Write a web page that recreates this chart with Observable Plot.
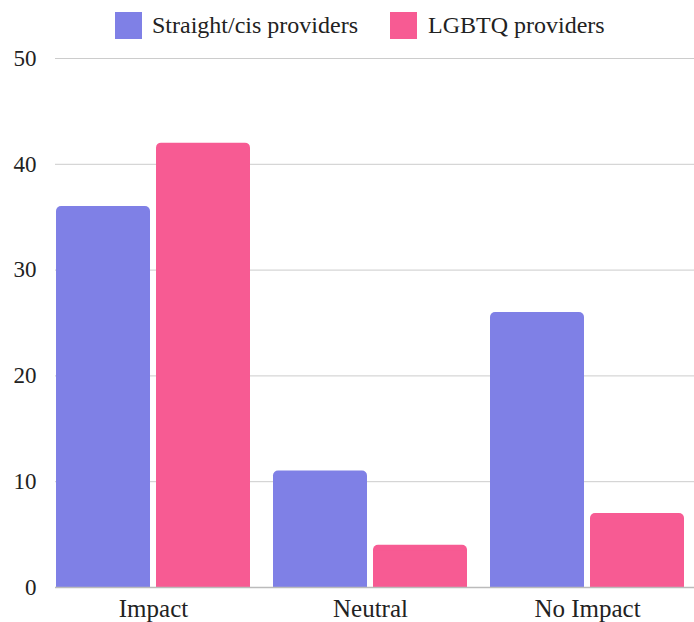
<!DOCTYPE html>
<html>
<head>
<meta charset="utf-8">
<script src="https://cdn.jsdelivr.net/npm/d3@7"></script>
<script src="https://cdn.jsdelivr.net/npm/@observablehq/plot@0.6"></script>
<style>
  body { margin: 0; background: #fff; font-family: "Liberation Serif", serif; }
  #wrap { position: relative; width: 694px; height: 622px; }
  .sw { position: absolute; top: 12px; width: 27px; height: 27px; z-index: 2; }
  .lab { position: absolute; top: 10px; font-size: 24px; line-height: 30px; color: #222; white-space: nowrap; z-index: 2; }
  #chart { position: absolute; left: 0; top: 0; }
  #chart svg g[aria-label="x-axis tick label"] { font-size: 25px; }
</style>
</head>
<body>
<div id="wrap">
  <div id="legend"></div>
  <div id="chart"></div>
</div>
<script>
const categories = ["Impact", "Neutral", "No Impact"];
const seriesNames = ["Straight/cis providers", "LGBTQ providers"];
const straightCis = [36, 11, 26];
const lgbtq = [42, 4, 7];
const yTicks = [0, 10, 20, 30, 40, 50];
const colors = ["#7f80e6", "#f75b93"];

const legend = document.getElementById("legend");
const swatchLeft = [115, 390];
const labelLeft = [152, 428];
seriesNames.forEach((name, i) => {
  const sw = document.createElement("div");
  sw.className = "sw";
  sw.style.background = colors[i];
  sw.style.left = swatchLeft[i] + "px";
  const lab = document.createElement("div");
  lab.className = "lab";
  lab.style.left = labelLeft[i] + "px";
  lab.textContent = name;
  legend.appendChild(sw);
  legend.appendChild(lab);
});

const data = categories.map((c, i) => ({cat: c, a: straightCis[i], b: lgbtq[i]}));

const chart = Plot.plot({
  width: 694,
  height: 622,
  marginTop: 58,
  marginBottom: 35,
  marginLeft: 55,
  marginRight: 0,
  style: {fontFamily: "Liberation Serif, serif", fontSize: "23px", color: "#222", background: "transparent"},
  x: {domain: categories, range: [55, 686], paddingInner: 0.1055, paddingOuter: 0, tickSize: 0, tickPadding: 12, label: null},
  y: {domain: [0, 50], ticks: yTicks, tickSize: 0, tickPadding: 19, label: null},
  marks: [
    Plot.ruleY(yTicks.filter(d => d > 0), {stroke: "#cccccc", strokeWidth: 1}),
    Plot.barY(data, {x: "cat", y: "a", fill: colors[0], rx: 5, insetRight: 100}),
    Plot.barY(data, {x: "cat", y: "a", fill: colors[0], insetRight: 100, insetTop: 6}),
    Plot.barY(data, {x: "cat", y: "b", fill: colors[1], rx: 5, insetLeft: 100}),
    Plot.barY(data, {x: "cat", y: "b", fill: colors[1], insetLeft: 100, insetTop: 6}),
    Plot.ruleY([0], {stroke: "#bbbbbb", strokeWidth: 1.5})
  ]
});
document.getElementById("chart").appendChild(chart);
</script>
</body>
</html>
